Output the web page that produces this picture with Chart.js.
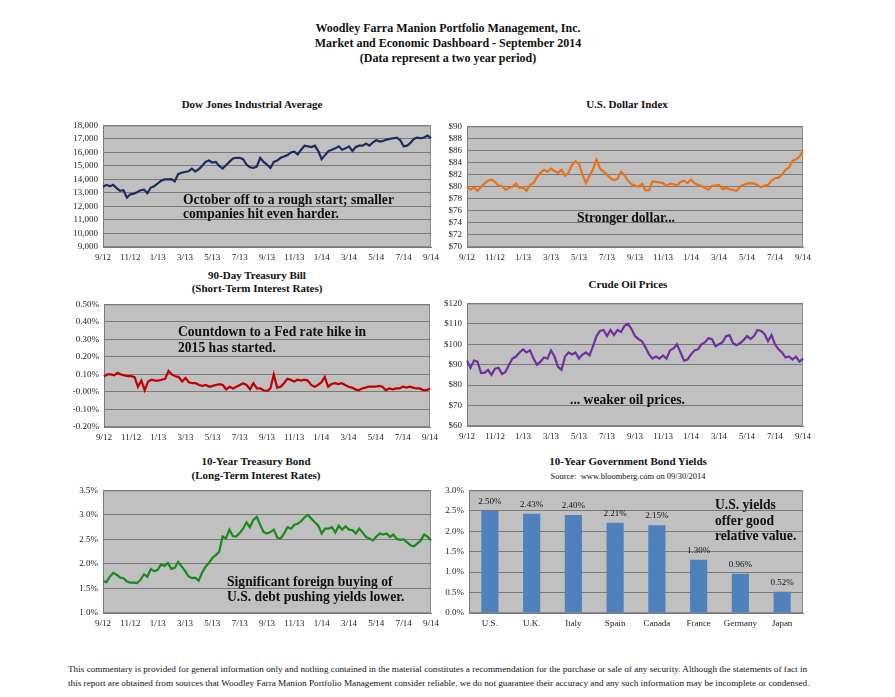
<!DOCTYPE html>
<html>
<head>
<meta charset="utf-8">
<script src="https://cdn.jsdelivr.net/npm/chart.js@4.4.1/dist/chart.umd.min.js"></script>
<style>
body { margin: 0; background: #fff; font-family: "Liberation Serif", "Times New Roman", serif; color: #111; }
#page { position: relative; width: 895px; height: 697px; overflow: hidden; }
canvas { position: absolute; }
.head { position: absolute; left: 0; top: 21px; width: 896px; text-align: center; font-weight: bold; font-size: 12px; line-height: 15px; }
.t { position: absolute; width: 300px; text-align: center; font-weight: bold; font-size: 11px; line-height: 14px; white-space: nowrap; }
.src { font-weight: normal; font-size: 8.5px; line-height: 11px; }
.note { position: absolute; font-weight: bold; font-size: 13.6px; line-height: 14px; white-space: nowrap; z-index: 2; }
.foot { position: absolute; left: 68px; top: 662px; width: 738px; font-size: 9.2px; line-height: 14px; }
.foot div { text-align: justify; text-align-last: justify; white-space: nowrap; }
</style>
</head>
<body>
<div id="page">
  <div class="head">Woodley Farra Manion Portfolio Management, Inc.<br>Market and Economic Dashboard - September 2014<br>(Data represent a two year period)</div>

  <div class="t" style="left:102px; top:97px;">Dow Jones Industrial Average</div>
  <div class="t" style="left:477px; top:97px;">U.S. Dollar Index</div>
  <div class="t" style="left:107px; top:269px; line-height:13px;">90-Day Treasury Bill<br>(Short-Term Interest Rates)</div>
  <div class="t" style="left:478px; top:277px;">Crude Oil Prices</div>
  <div class="t" style="left:106px; top:454px;">10-Year Treasury Bond<br>(Long-Term Interest Rates)</div>
  <div class="t" style="left:478px; top:454px;">10-Year Government Bond Yields<br><span class="src">Source:&nbsp; www.bloomberg.com on 09/30/2014</span></div>

  <canvas id="dow"></canvas>
  <canvas id="dollar"></canvas>
  <canvas id="tbill"></canvas>
  <canvas id="oil"></canvas>
  <canvas id="tbond"></canvas>
  <canvas id="yields"></canvas>

  <div class="note" style="left:183px; top:193px;">October off to a rough start; smaller<br>companies hit even harder.</div>
  <div class="note" style="left:577px; top:211px;">Stronger dollar...</div>
  <div class="note" style="left:178px; top:324px; line-height:16px;">Countdown to a Fed rate hike in<br>2015 has started.</div>
  <div class="note" style="left:570px; top:393px;">... weaker oil prices.</div>
  <div class="note" style="left:227px; top:574px; line-height:15px;">Significant foreign buying of<br>U.S. debt pushing yields lower.</div>
  <div class="note" style="left:715px; top:497px; line-height:15.5px;">U.S. yields<br>offer good<br>relative value.</div>

  <div class="foot">
    <div>This commentary is provided for general information only and nothing contained in the material constitutes a recommendation for the purchase or sale of any security. Although the statements of fact in</div>
    <div>this report are obtained from sources that Woodley Farra Manion Portfolio Management consider reliable, we do not guarantee their accuracy and any such information may be incomplete or condensed.</div>
  </div>
</div>

<script>
// x axis: one label every two months, four readings per month
var xTickLabels = ['9/12', '11/12', '1/13', '3/13', '5/13', '7/13', '9/13', '11/13', '1/14', '3/14', '5/14', '7/14', '9/14'];

var dowValues = [
  13450, 13600, 13500, 13600, 13350, 13150, 13200, 12650, 12900, 12950,
  13050, 13200, 13250, 12980, 13400, 13500, 13700, 13900, 14000, 14000,
  14020, 13850, 14400, 14500, 14550, 14600, 14800, 14600, 14750, 15000,
  15300, 15400, 15250, 15300, 15000, 14800, 15050, 15300, 15550, 15600,
  15600, 15500, 15100, 14900, 14850, 14950, 15600, 15300, 15100, 14850,
  15300, 15400, 15600, 15700, 15800, 16000, 16050, 15850, 16200, 16500,
  16450, 16400, 16500, 16100, 15500, 15800, 16100, 16200, 16300, 16450,
  16200, 16300, 16450, 16100, 16400, 16500, 16500, 16650, 16500, 16750,
  16900, 16800, 16850, 16950, 17000, 17050, 17100, 16900, 16450, 16500,
  16700, 17000, 17100, 17050, 17100, 17250, 17050
];

var dollarValues = [
  80.0, 79.5, 79.9, 79.3, 80.0, 80.5, 81.0, 81.2, 80.8, 80.2,
  80.1, 79.5, 79.8, 80.0, 80.5, 79.8, 79.9, 79.3, 80.3, 80.6,
  81.6, 82.3, 82.8, 82.5, 83.0, 82.6, 82.3, 82.8, 81.8, 82.3,
  83.6, 84.2, 83.8, 82.0, 80.6, 81.8, 82.9, 84.5, 83.0, 82.5,
  82.0, 81.4, 81.1, 81.3, 82.5, 81.9, 81.0, 80.4, 80.2, 80.0,
  80.5, 79.4, 79.4, 80.9, 80.8, 80.7, 80.6, 80.1, 80.5, 80.4,
  80.2, 80.8, 81.0, 80.6, 81.2, 80.6, 80.3, 80.1, 79.8, 79.5,
  80.1, 80.2, 80.3, 79.6, 79.8, 79.6, 79.5, 79.3, 80.0, 80.3,
  80.5, 80.6, 80.5, 80.3, 79.9, 80.2, 80.3, 81.0, 81.4, 81.5,
  82.0, 82.8, 83.2, 84.3, 84.5, 85.0, 85.9
];

var tbillValues = [
  0.09, 0.10, 0.10, 0.095, 0.11, 0.10, 0.095, 0.09, 0.09, 0.085,
  0.03, 0.065, 0.01, 0.06, 0.07, 0.065, 0.065, 0.07, 0.075, 0.12,
  0.10, 0.09, 0.085, 0.06, 0.08, 0.055, 0.05, 0.05, 0.04, 0.035,
  0.04, 0.03, 0.035, 0.04, 0.045, 0.04, 0.015, 0.03, 0.02, 0.03,
  0.04, 0.05, 0.04, 0.015, 0.05, 0.02, 0.02, 0.01, 0.005, 0.02,
  0.10, 0.025, 0.03, 0.05, 0.075, 0.07, 0.06, 0.07, 0.065, 0.07,
  0.065, 0.04, 0.03, 0.04, 0.055, 0.085, 0.03, 0.045, 0.05, 0.045,
  0.05, 0.04, 0.03, 0.025, 0.015, 0.01, 0.02, 0.025, 0.03, 0.03,
  0.03, 0.035, 0.03, 0.01, 0.02, 0.015, 0.02, 0.02, 0.03, 0.025,
  0.03, 0.025, 0.02, 0.02, 0.01, 0.01, 0.02
];

var oilValues = [
  92, 88.5, 92, 91.5, 86, 86, 87.5, 85, 88, 88.5,
  85.5, 86.5, 90, 93, 94, 96, 97.5, 96, 97, 93,
  90, 91.5, 93.5, 93, 97, 94, 89, 87.5, 94, 96,
  95, 96, 93, 95, 96, 94.5, 99, 104, 106.5, 107,
  104, 107, 104.5, 107, 106, 109, 110, 107.5, 104, 102.5,
  101.5, 98.5, 95, 93, 94, 93, 94.5, 93, 97, 98,
  100, 96, 92, 92.5, 95, 97, 97.5, 100, 101, 103,
  102.5, 99, 100, 101, 104, 104.5, 100.5, 99.5, 100.5, 102,
  104, 102.5, 104, 107, 106.5, 105, 101.5, 104.5, 100, 97.5,
  96, 93.5, 94, 92.5, 94, 91.5, 93
];

var tbondValues = [
  1.65, 1.63, 1.74, 1.82, 1.78, 1.72, 1.71, 1.64, 1.62, 1.62,
  1.61, 1.68, 1.79, 1.74, 1.90, 1.85, 1.88, 1.99, 1.96, 2.02,
  1.90, 1.92, 2.04, 1.95, 1.86, 1.75, 1.71, 1.72, 1.66, 1.82,
  1.94, 2.02, 2.12, 2.18, 2.25, 2.56, 2.52, 2.70, 2.57, 2.56,
  2.63, 2.72, 2.85, 2.75, 2.90, 2.96, 2.80, 2.65, 2.62, 2.65,
  2.70, 2.54, 2.52, 2.62, 2.75, 2.72, 2.80, 2.82, 2.87, 2.95,
  3.00, 2.92, 2.85, 2.78, 2.62, 2.72, 2.72, 2.75, 2.64, 2.78,
  2.70, 2.77, 2.70, 2.69, 2.62, 2.72, 2.64, 2.55, 2.52, 2.48,
  2.56, 2.62, 2.60, 2.62, 2.55, 2.60, 2.51, 2.49, 2.50, 2.44,
  2.38, 2.36, 2.42, 2.48, 2.60, 2.56, 2.48
];

var bondCountries = ['U.S.', 'U.K.', 'Italy', 'Spain', 'Canada', 'France', 'Germany', 'Japan'];
var bondYields = [2.50, 2.43, 2.40, 2.21, 2.15, 1.30, 0.96, 0.52];

var SERIF = '"Liberation Serif", "Times New Roman", serif';
var PAD_L = 50, PAD_T = 8, PAD_R = 16, PAD_B = 22;

// grey plot area like the old Excel charts
var plotBg = {
    id: 'plotBg',
    beforeDraw: function (chart) {
        var a = chart.chartArea, ctx = chart.ctx;
        ctx.save();
        ctx.fillStyle = '#c0c0c0';
        ctx.fillRect(a.left, a.top, a.right - a.left, a.bottom - a.top);
        ctx.strokeStyle = '#8a8a8a';
        ctx.lineWidth = 1;
        ctx.strokeRect(a.left + 0.5, a.top + 0.5, a.right - a.left - 1, a.bottom - a.top - 1);
        ctx.restore();
    }
};

var barLabels = {
    id: 'barLabels',
    afterDatasetsDraw: function (chart) {
        var ctx = chart.ctx;
        ctx.save();
        ctx.font = '9px ' + SERIF;
        ctx.fillStyle = '#111';
        ctx.textAlign = 'center';
        ctx.textBaseline = 'bottom';
        chart.getDatasetMeta(0).data.forEach(function (bar, i) {
            ctx.fillText(bondYields[i].toFixed(2) + '%', bar.x, bar.y - 5);
        });
        ctx.restore();
    }
};

function placeCanvas(id, box) {
    var c = document.getElementById(id);
    c.width = box.r - box.l + PAD_L + PAD_R;
    c.height = box.b - box.t + PAD_T + PAD_B;
    c.style.left = (box.l - PAD_L) + 'px';
    c.style.top = (box.t - PAD_T) + 'px';
    return c;
}

function yAxis(min, max, step, fmt) {
    return {
        min: min,
        max: max,
        afterFit: function (s) { s.width = PAD_L; },
        ticks: { stepSize: step, autoSkip: false, padding: 5, color: '#222', font: { family: SERIF, size: 9 }, callback: fmt },
        grid: { color: '#7a7a7a', drawTicks: false },
        border: { color: '#7a7a7a' }
    };
}

function xTimeAxis() {
    return {
        afterFit: function (s) { s.height = PAD_B; },
        ticks: {
            autoSkip: false, maxRotation: 0, padding: 5, color: '#222',
            font: { family: SERIF, size: 9 },
            callback: function (v, i) { return i % 8 === 0 ? xTickLabels[i / 8] : null; }
        },
        grid: { display: false, drawTicks: false },
        border: { color: '#7a7a7a' }
    };
}

function lineChart(id, box, values, color, yMin, yMax, yStep, fmt) {
    var ctx = placeCanvas(id, box).getContext('2d');
    return new Chart(ctx, {
        type: 'line',
        data: {
            labels: values.map(function (v, i) { return i; }),
            datasets: [{
                data: values,
                borderColor: color,
                borderWidth: 2.2,
                pointRadius: 0,
                tension: 0,
                fill: false
            }]
        },
        options: {
            responsive: false,
            animation: false,
            layout: { padding: { top: PAD_T, right: PAD_R, left: 0, bottom: 0 } },
            plugins: { legend: { display: false }, tooltip: { enabled: false } },
            scales: { x: xTimeAxis(), y: yAxis(yMin, yMax, yStep, fmt) }
        },
        plugins: [plotBg]
    });
}

function thousands(v) { return v.toLocaleString('en-US'); }
function dollars(v) { return '$' + Math.round(v); }
function pct2(v) { return v.toFixed(2) + '%'; }
function pct1(v) { return v.toFixed(1) + '%'; }

lineChart('dow', { l: 103, t: 123, r: 431, b: 247 }, dowValues, '#1f2b5e', 9000, 18000, 1000, thousands);
lineChart('dollar', { l: 467, t: 124, r: 803, b: 247 }, dollarValues, '#e8711a', 70, 90, 2, dollars);
lineChart('tbill', { l: 104, t: 302, r: 430, b: 427 }, tbillValues, '#c00000', -0.2, 0.5, 0.1, pct2);
lineChart('oil', { l: 467, t: 301, r: 803, b: 426 }, oilValues, '#7030a0', 60, 120, 10, dollars);
lineChart('tbond', { l: 103, t: 488, r: 431, b: 613 }, tbondValues, '#1a8a1a', 1.0, 3.5, 0.5, pct1);

var yieldCtx = placeCanvas('yields', { l: 469, t: 488, r: 803, b: 613 }).getContext('2d');
new Chart(yieldCtx, {
    type: 'bar',
    data: {
        labels: bondCountries,
        datasets: [{
            data: bondYields,
            backgroundColor: '#4f81bd',
            barPercentage: 0.41,
            categoryPercentage: 1.0
        }]
    },
    options: {
        responsive: false,
        animation: false,
        layout: { padding: { top: PAD_T, right: PAD_R, left: 0, bottom: 0 } },
        plugins: { legend: { display: false }, tooltip: { enabled: false } },
        scales: {
            x: {
                afterFit: function (s) { s.height = PAD_B; },
                ticks: { padding: 5, color: '#222', font: { family: SERIF, size: 9 } },
                grid: { display: false, drawTicks: false },
                border: { color: '#7a7a7a' }
            },
            y: yAxis(0, 3, 0.5, pct1)
        }
    },
    plugins: [plotBg, barLabels]
});
</script>
</body>
</html>
